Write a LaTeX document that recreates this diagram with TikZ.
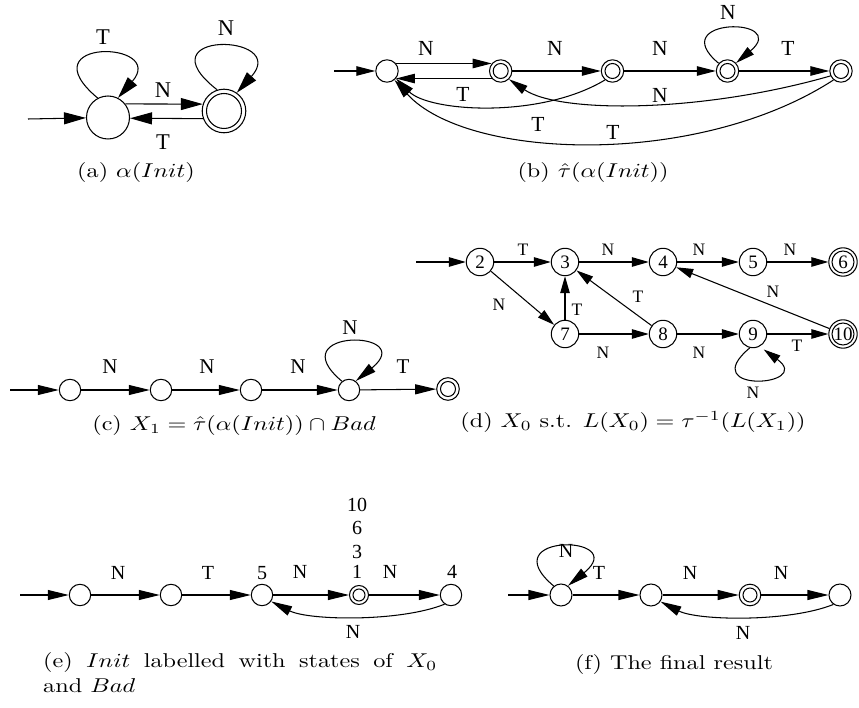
\documentclass[tikz,border=0pt]{standalone}
\usepackage{fontspec}
\usepackage{graphicx}
\newfontfamily\tms{Liberation Serif}
\usetikzlibrary{arrows.meta}
\newcommand{\capt}[1]{\scalebox{2.42}[2.0]{#1}}
\tikzset{
  st/.style={circle, draw, line width=1.05pt, inner sep=0pt, minimum size=#1},
  acc/.style n args={2}{st=#1, path picture={\draw[line width=1.05pt] (path picture bounding box.center) circle (#2);}},
  lab/.style={inner sep=0pt, font=\tms\fontsize{#1}{#1}\selectfont},
  capn/.style={inner sep=0pt, font=\fontsize{10}{12}\selectfont},
  arA/.style={line width=1.05pt, -{Triangle[length=22pt,width=12pt]}},
  arB/.style={line width=1.05pt, -{Triangle[length=19pt,width=9.5pt]}},
  arC/.style={line width=1.05pt, -{Triangle[length=21pt,width=10pt]}},
  arD/.style={line width=1.05pt, -{Triangle[length=17pt,width=9.5pt]}},
}
\begin{document}
\begin{tikzpicture}[x=1pt,y=1pt]
\fill[white] (0,0) rectangle (859,-708);
\useasboundingbox (0,0) rectangle (859,-708);

% ---------------- (a)
\node[st=43pt] (a0) at (108,-117.5) {};
\node[acc={43.6pt}{17.5pt}] (a1) at (224,-111) {};
\coordinate (ai) at (28,-119);
\draw[arA] (ai) -- (a0);
\draw[arA] (a0.38) -- (a1.162);
\draw[arA] (a1.200) -- (a0.358);
\draw[arA] (a0.118) .. controls +(140:94) and +(49:76) .. (a0.63);
\draw[arA] (a1.108) .. controls +(142:97) and +(48:80) .. (a1.55);
\node[lab=22.5] (la1) at (103,-37) {T};
\node[lab=22.5] (la2) at (163,-90) {N};
\node[lab=22.5] (la3) at (163,-142) {T};
\node[lab=22.5] (la4) at (226,-28) {N};
\node[capn] (ca) at (136,-173) {\capt{(a) $\alpha(Init)$}};

% ---------------- (b)
\node[st=22.4pt] (b0) at (387,-71) {};
\node[acc={22.4pt}{7.5pt}] (b1) at (500.7,-71) {};
\node[acc={22.4pt}{7.5pt}] (b2) at (612.5,-71) {};
\node[acc={22.4pt}{7.5pt}] (b3) at (727.5,-71) {};
\node[acc={22.4pt}{7.5pt}] (b4) at (841,-71) {};
\coordinate (bi) at (334,-71);
\draw[arB] (bi) -- (b0);
\draw[arB] (b0.40) -- (b1.140);
\draw[arB] (b1.220) -- (b0.320);
\draw[arB] (b1) -- (b2);
\draw[arB] (b2) -- (b3);
\draw[arB] (b3) -- (b4);
\draw[arB] (b3.139) .. controls +(140:72) and +(40:72) .. (b3.43);
\draw[arB] (b2.230) .. controls +(211:76) and +(-45:47) .. (b0.-40);
\draw[arB] (b4.205) .. controls +(196:135) and +(-34:61) .. (b1.-45);
\draw[arB] (b4.230) .. controls +(213:162) and +(-48:108) .. (b0.-50);
\node[lab=21.5] (lb1) at (426,-48) {N};
\node[lab=21.5] (lb2) at (555,-48) {N};
\node[lab=21.5] (lb3) at (660,-48) {N};
\node[lab=21.5] (lb4) at (728,-12) {N};
\node[lab=21.5] (lb5) at (788,-48) {T};
\node[lab=21.5] (lb6) at (463,-94) {T};
\node[lab=21.5] (lb7) at (538,-124) {T};
\node[lab=21.5] (lb8) at (660,-95) {N};
\node[lab=21.5] (lb9) at (613,-132) {T};
\node[capn] (cb) at (593,-173) {\capt{(b) $\hat\tau(\alpha(Init))$}};

% ---------------- (c)
\node[st=21.4pt] (c0) at (70,-390) {};
\node[st=21.4pt] (c1) at (161,-390) {};
\node[st=21.4pt] (c2) at (251,-390) {};
\node[st=21.4pt] (c3) at (349,-390) {};
\node[acc={22.6pt}{7.5pt}] (c4) at (448,-389) {};
\coordinate (ci) at (10,-390);
\draw[arC] (ci) -- (c0);
\draw[arC] (c0) -- (c1);
\draw[arC] (c1) -- (c2);
\draw[arC] (c2) -- (c3);
\draw[arC] (c3) -- (c4);
\draw[arC] (c3.129) .. controls +(140:83) and +(39:82) .. (c3.53);
\node[lab=21] (lc1) at (110,-367) {N};
\node[lab=21] (lc2) at (207,-367) {N};
\node[lab=21] (lc3) at (298,-367) {N};
\node[lab=21] (lc4) at (350,-328) {N};
\node[lab=21] (lc5) at (403,-367) {T};
\node[capn] (cc) at (234,-425) {\capt{(c) $X_1 = \hat\tau(\alpha(Init)) \cap Bad$}};

% ---------------- (d)
\tikzset{dn/.style={font=\tms\fontsize{19}{19}\selectfont}}
\node[st=27.4pt,dn] (d2) at (480,-262) {2};
\node[st=27.4pt,dn] (d3) at (565,-262) {3};
\node[st=27.4pt,dn] (d4) at (663,-262) {4};
\node[st=27.4pt,dn] (d5) at (753,-262) {5};
\node[acc={28.4pt}{11pt},dn] (d6) at (843,-262) {6};
\node[st=27.4pt,dn] (d7) at (565,-334) {7};
\node[st=27.4pt,dn] (d8) at (663,-334) {8};
\node[st=27.4pt,dn] (d9) at (753,-334) {9};
\node[acc={28.4pt}{11pt},dn] (d10) at (843,-334) {10};
\coordinate (di) at (416,-262);
\draw[arD] (di) -- (d2);
\draw[arD] (d2) -- (d3);
\draw[arD] (d3) -- (d4);
\draw[arD] (d4) -- (d5);
\draw[arD] (d5) -- (d6);
\draw[arD] (d2) -- (d7);
\draw[arD] (d7) -- (d3);
\draw[arD] (d8) -- (d3);
\draw[arD] (d10) -- (d4);
\draw[arD] (d7) -- (d8);
\draw[arD] (d8) -- (d9);
\draw[arD] (d9) -- (d10);
\draw[arD, shorten >=5pt] (d9.-103) .. controls +(220:72) and +(-36:68) .. (d9.-62);
\node[lab=17.5] (ld1) at (523,-250) {T};
\node[lab=17.5] (ld2) at (608,-250) {N};
\node[lab=17.5] (ld3) at (699,-250) {N};
\node[lab=17.5] (ld4) at (790,-250) {N};
\node[lab=17.5] (ld5) at (499,-305) {N};
\node[lab=17.5] (ld6) at (577,-310) {T};
\node[lab=17.5] (ld7) at (638,-297) {T};
\node[lab=17.5] (ld8) at (773,-292) {N};
\node[lab=17.5] (ld9) at (603,-353) {N};
\node[lab=17.5] (ld10) at (699,-353) {N};
\node[lab=17.5] (ld11) at (797,-346) {T};
\node[lab=17.5] (ld12) at (753,-393) {N};
\node[capn] (cd) at (633,-422) {\capt{(d) $X_0$ s.t. $L(X_0) = \tau^{-1}(L(X_1))$}};

% ---------------- (e)
\node[st=21.4pt] (e0) at (80,-595) {};
\node[st=21.4pt] (e1) at (171,-595) {};
\node[st=21.4pt] (e2) at (262,-595) {};
\node[acc={19pt}{6pt}] (e3) at (359,-595) {};
\node[st=21.4pt] (e4) at (451,-595) {};
\coordinate (ei) at (20,-595);
\draw[arC] (ei) -- (e0);
\draw[arC] (e0) -- (e1);
\draw[arC] (e1) -- (e2);
\draw[arC] (e2) -- (e3);
\draw[arC] (e3) -- (e4);
\draw[arC] (e4.235) .. controls +(202:48) and +(-27:42) .. (e2.-35);
\node[lab=20] (le1) at (118,-573) {N};
\node[lab=20] (le2) at (208,-573) {T};
\node[lab=20] (le3) at (262,-573) {5};
\node[lab=20] (le4) at (300,-572) {N};
\node[lab=20] (le5) at (357,-572) {1};
\node[lab=20] (le6) at (357,-552) {3};
\node[lab=20] (le7) at (357,-528) {6};
\node[lab=20] (le8) at (357,-505) {10};
\node[lab=20] (le9) at (390,-572) {N};
\node[lab=20] (le10) at (452,-572) {4};
\node[lab=20] (le11) at (353,-632) {N};
\node[capn, anchor=base west] (ce1) at (43,-667) {\capt{\makebox[162.8pt][s]{(e) $Init$ labelled with states of $X_0$}}};
\node[capn, anchor=base west] (ce2) at (43,-692) {\capt{and $Bad$}};

% ---------------- (f)
\node[st=22pt] (f0) at (561,-595) {};
\node[st=22pt] (f1) at (651,-595) {};
\node[acc={21.6pt}{7pt}] (f2) at (750,-595) {};
\node[st=22pt] (f3) at (840,-595) {};
\coordinate (fi) at (508,-595);
\draw[arC] (fi) -- (f0);
\draw[arC] (f0) -- (f1);
\draw[arC] (f1) -- (f2);
\draw[arC] (f2) -- (f3);
\draw[arC] (f0.129) .. controls +(140:83) and +(39:82) .. (f0.53);
\draw[arC] (f3.235) .. controls +(202:48) and +(-27:42) .. (f1.-35);
\node[lab=20] (lf1) at (566,-551) {N};
\node[lab=20] (lf2) at (599,-573) {T};
\node[lab=20] (lf3) at (690,-573) {N};
\node[lab=20] (lf4) at (781,-573) {N};
\node[lab=20] (lf5) at (743,-633) {N};
\node[capn] (cf) at (674,-664) {\capt{(f) The final result}};
\end{tikzpicture}
\end{document}
